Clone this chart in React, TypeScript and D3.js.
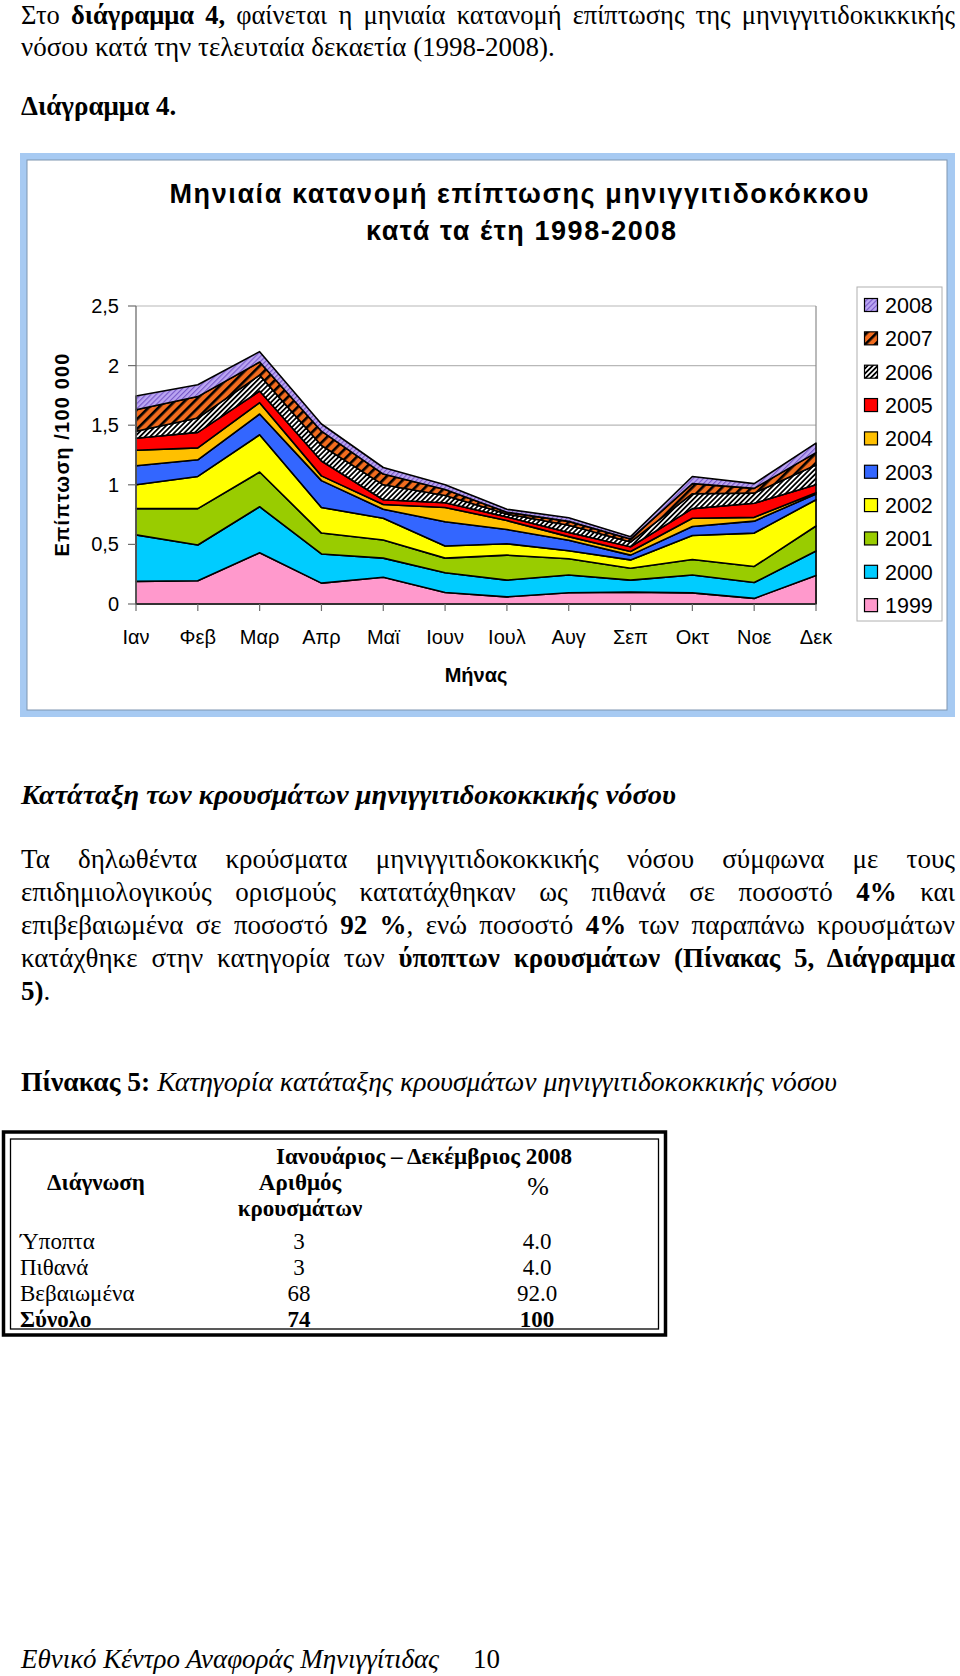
import React, { useRef, useLayoutEffect } from 'react';
import * as d3 from 'd3';

// ---------- DATA ----------
const months = ['Ιαν', 'Φεβ', 'Μαρ', 'Απρ', 'Μαϊ', 'Ιουν', 'Ιουλ', 'Αυγ', 'Σεπ', 'Οκτ', 'Νοε', 'Δεκ'];
const years = ['1999', '2000', '2001', '2002', '2003', '2004', '2005', '2006', '2007', '2008'];

const v1999 = [0.19, 0.195, 0.43, 0.175, 0.224, 0.097, 0.06, 0.095, 0.10, 0.093, 0.047, 0.24];
const v2000 = [0.39, 0.30, 0.386, 0.245, 0.161, 0.165, 0.14, 0.148, 0.10, 0.15, 0.133, 0.205];
const v2001 = [0.22, 0.305, 0.291, 0.175, 0.152, 0.123, 0.21, 0.137, 0.10, 0.13, 0.135, 0.209];
const v2002 = [0.20, 0.27, 0.313, 0.215, 0.183, 0.102, 0.095, 0.067, 0.07, 0.202, 0.28, 0.221];
const v2003 = [0.16, 0.14, 0.174, 0.225, 0.075, 0.203, 0.12, 0.088, 0.04, 0.075, 0.10, 0.048];
const v2004 = [0.13, 0.10, 0.095, 0.04, 0.04, 0.12, 0.075, 0.03, 0.03, 0.07, 0.032, 0.011];
const v2005 = [0.10, 0.13, 0.098, 0.125, 0.04, 0.04, 0.03, 0.035, 0.04, 0.08, 0.118, 0.066];
const v2006 = [0.06, 0.12, 0.133, 0.13, 0.125, 0.06, 0.025, 0.06, 0.04, 0.125, 0.085, 0.166];
const v2007 = [0.18, 0.18, 0.11, 0.12, 0.09, 0.05, 0.015, 0.033, 0.025, 0.085, 0.04, 0.104];
const v2008 = [0.115, 0.10, 0.087, 0.06, 0.055, 0.04, 0.025, 0.03, 0.02, 0.06, 0.04, 0.08];

const seriesValues: Record<string, number[]> = {
  '1999': v1999, '2000': v2000, '2001': v2001, '2002': v2002, '2003': v2003,
  '2004': v2004, '2005': v2005, '2006': v2006, '2007': v2007, '2008': v2008,
};

const yTicks = [0, 0.5, 1, 1.5, 2, 2.5];
const yTickLabels = ['0', '0,5', '1', '1,5', '2', '2,5'];

const tableRows = ['Ύποπτα', 'Πιθανά', 'Βεβαιωμένα', 'Σύνολο'];
const tableCounts = ['3', '3', '68', '74'];
const tablePercents = ['4.0', '4.0', '92.0', '100'];

// ---------- STYLE ----------
const fills: Record<string, string> = {
  '1999': '#ff99cc',
  '2000': '#00ccff',
  '2001': '#99cc00',
  '2002': '#ffff00',
  '2003': '#3366ff',
  '2004': '#ffc000',
  '2005': '#ff0000',
  '2006': 'url(#p2006)',
  '2007': 'url(#p2007)',
  '2008': 'url(#p2008)',
};

const SERIF = '"Liberation Serif", "Times New Roman", serif';
const SANS = '"Liberation Sans", Arial, sans-serif';
const BODY = 27;

// justified line: adjusts word spacing to fill width
function JLine({ x, y, width, size, children, style }: any) {
  const ref = useRef<SVGTextElement>(null);
  useLayoutEffect(() => {
    const el = ref.current;
    if (!el) return;
    el.style.wordSpacing = '0px';
    const len = el.getComputedTextLength();
    const spaces = ((el.textContent || '').match(/ /g) || []).length;
    if (spaces > 0) el.style.wordSpacing = (width - len) / spaces + 'px';
  }, [width]);
  return (
    <text ref={ref} x={x} y={y} fontSize={size} fontFamily={SERIF} style={style}>
      {children}
    </text>
  );
}

function Chart() {
  const x = d3.scalePoint<string>().domain(months).range([136, 816]);
  const y = d3.scaleLinear().domain([0, 2.5]).range([604, 306]);

  const rows = months.map((m, i) => {
    const r: any = { month: m };
    years.forEach((yr) => (r[yr] = seriesValues[yr][i]));
    return r;
  });
  const stacked = d3.stack<any>().keys(years)(rows);
  const area = d3
    .area<any>()
    .x((d) => x(d.data.month) as number)
    .y0((d) => y(d[0]))
    .y1((d) => y(d[1]));

  const legendYears = [...years].reverse();
  const legendTop = 305;
  const legendStep = 33.35;

  return (
    <g>
      <defs>
        <pattern id="p2006" width="3.6" height="3.6" patternUnits="userSpaceOnUse" patternTransform="rotate(45)">
          <rect width="3.6" height="3.6" fill="#ffffff" />
          <rect width="1.8" height="3.6" fill="#000000" />
        </pattern>
        <pattern id="p2007" width="7" height="7" patternUnits="userSpaceOnUse" patternTransform="rotate(45)">
          <rect width="7" height="7" fill="#f26c1e" />
          <rect width="2.6" height="7" fill="#000000" />
        </pattern>
        <pattern id="p2008" width="3.6" height="3.6" patternUnits="userSpaceOnUse" patternTransform="rotate(45)">
          <rect width="3.6" height="3.6" fill="#bba6f2" />
          <rect width="1.1" height="3.6" fill="#7657c8" />
        </pattern>
      </defs>

      {/* chart frame */}
      <rect x={20} y={153} width={935} height={564} fill="#a7caf2" />
      <rect x={27} y={160} width={920} height={550} fill="#ffffff" stroke="#7f95b0" strokeWidth={1} />

      {/* title */}
      <text x={519} y={203} textAnchor="middle" fontFamily={SANS} fontWeight="bold" fontSize={27}
        textLength={699} lengthAdjust="spacing">Μηνιαία κατανομή επίπτωσης μηνιγγιτιδοκόκκου</text>
      <text x={521} y={240} textAnchor="middle" fontFamily={SANS} fontWeight="bold" fontSize={27}
        textLength={310} lengthAdjust="spacing">κατά τα έτη 1998-2008</text>

      {/* gridlines */}
      {yTicks.map((t) => (
        <line key={t} x1={136} x2={816} y1={y(t)} y2={y(t)} stroke="#b8b8b8" strokeWidth={1.2} />
      ))}
      <line x1={816} x2={816} y1={306} y2={604} stroke="#8c8c8c" strokeWidth={1.2} />

      {/* areas */}
      {stacked.map((s) => (
        <path key={s.key} d={area(s) as string} fill={fills[s.key]} stroke="#000" strokeWidth={1.6} strokeLinejoin="round" />
      ))}

      {/* axes */}
      <line x1={136} x2={136} y1={306} y2={604} stroke="#6e6e6e" strokeWidth={1.3} />
      <line x1={136} x2={816} y1={604} y2={604} stroke="#333" strokeWidth={1.5} />
      {yTicks.map((t, i) => (
        <g key={t}>
          <line x1={128} x2={136} y1={y(t)} y2={y(t)} stroke="#6e6e6e" strokeWidth={1.2} />
          <text x={119} y={y(t) + 7} textAnchor="end" fontFamily={SANS} fontSize={20}>{yTickLabels[i]}</text>
        </g>
      ))}
      {months.map((m) => (
        <g key={m}>
          <line x1={x(m)} x2={x(m)} y1={604} y2={611} stroke="#6e6e6e" strokeWidth={1.2} />
          <text x={x(m)} y={644} textAnchor="middle" fontFamily={SANS} fontSize={20}>{m}</text>
        </g>
      ))}
      <text x={476} y={682} textAnchor="middle" fontFamily={SANS} fontWeight="bold" fontSize={20}>Μήνας</text>
      <text transform="translate(69,455) rotate(-90)" textAnchor="middle" fontFamily={SANS} fontWeight="bold" fontSize={20}
        textLength={203} lengthAdjust="spacing">
        Επίπτωση /100 000
      </text>

      {/* legend */}
      <rect x={857} y={287} width={85} height={334} fill="#fff" stroke="#b0b0b0" strokeWidth={1} />
      {legendYears.map((yr, i) => {
        const cy = legendTop + i * legendStep;
        return (
          <g key={yr}>
            <rect x={864.5} y={cy - 6.5} width={13} height={13} fill={fills[yr]} stroke="#000" strokeWidth={1.2} />
            <text x={885} y={cy + 7.8} fontFamily={SANS} fontSize={21.5}>{yr}</text>
          </g>
        );
      })}
    </g>
  );
}

function Table() {
  const rowY = [1249, 1275, 1301, 1327];
  return (
    <g fontFamily={SERIF} fontSize={23}>
      <rect x={3.5} y={1132} width={662} height={203} fill="none" stroke="#000" strokeWidth={3.5} />
      <rect x={10.5} y={1139} width={648} height={190} fill="none" stroke="#000" strokeWidth={1.3} />
      <text x={424} y={1164} textAnchor="middle" fontWeight="bold" textLength={296} lengthAdjust="spacingAndGlyphs">Ιανουάριος – Δεκέμβριος 2008</text>
      <text x={96} y={1190} textAnchor="middle" fontWeight="bold">Διάγνωση</text>
      <text x={300} y={1190} textAnchor="middle" fontWeight="bold">Αριθμός</text>
      <text x={300} y={1216} textAnchor="middle" fontWeight="bold">κρουσμάτων</text>
      <text x={538} y={1195} textAnchor="middle" fontSize={26}>%</text>
      {tableRows.map((r, i) => {
        const bold = i === tableRows.length - 1 ? 'bold' : 'normal';
        return (
          <g key={r} fontWeight={bold}>
            <text x={20} y={rowY[i]}>{r}</text>
            <text x={299} y={rowY[i]} textAnchor="middle">{tableCounts[i]}</text>
            <text x={537} y={rowY[i]} textAnchor="middle">{tablePercents[i]}</text>
          </g>
        );
      })}
    </g>
  );
}

export default function App() {
  const B = { fontWeight: 'bold' as const };
  return (
    <svg width={960} height={1676} viewBox="0 0 960 1676" style={{ position: 'absolute', left: 0, top: 0, background: '#fff' }}>
      <rect width={960} height={1676} fill="#fff" />
      <JLine x={21} y={24} width={934} size={26.5}>
        Στο <tspan style={B}>διάγραμμα 4,</tspan> φαίνεται η μηνιαία κατανομή επίπτωσης της μηνιγγιτιδοκικκικής
      </JLine>
      <text x={21} y={56} fontFamily={SERIF} fontSize={BODY}>νόσου κατά την τελευταία δεκαετία (1998-2008).</text>
      <text x={21} y={115} fontFamily={SERIF} fontSize={BODY} fontWeight="bold">Διάγραμμα 4.</text>

      <Chart />

      <text x={21} y={804} fontFamily={SERIF} fontSize={BODY} fontWeight="bold" fontStyle="italic"
        textLength={655} lengthAdjust="spacingAndGlyphs">
        Κατάταξη των κρουσμάτων μηνιγγιτιδοκοκκικής νόσου
      </text>

      <JLine x={21} y={868} width={934} size={BODY}>
        Τα δηλωθέντα κρούσματα μηνιγγιτιδοκοκκικής νόσου σύμφωνα με τους
      </JLine>
      <JLine x={21} y={901} width={934} size={BODY}>
        επιδημιολογικούς ορισμούς κατατάχθηκαν ως πιθανά σε ποσοστό <tspan style={B}>4%</tspan> και
      </JLine>
      <JLine x={21} y={934} width={934} size={BODY}>
        επιβεβαιωμένα σε ποσοστό <tspan style={B}>92 %</tspan>, ενώ ποσοστό <tspan style={B}>4%</tspan> των παραπάνω κρουσμάτων
      </JLine>
      <JLine x={21} y={967} width={934} size={BODY}>
        κατάχθηκε στην κατηγορία των <tspan style={B}>ύποπτων κρουσμάτων (Πίνακας 5, Διάγραμμα</tspan>
      </JLine>
      <text x={21} y={1000} fontFamily={SERIF} fontSize={BODY}>
        <tspan fontWeight="bold">5)</tspan>.
      </text>

      <text x={21} y={1091} fontFamily={SERIF} fontSize={BODY} textLength={816} lengthAdjust="spacingAndGlyphs">
        <tspan fontWeight="bold">Πίνακας 5:</tspan> <tspan fontStyle="italic">Κατηγορία κατάταξης κρουσμάτων μηνιγγιτιδοκοκκικής νόσου</tspan>
      </text>

      <Table />

      <text x={21} y={1668} fontFamily={SERIF} fontSize={27} fontStyle="italic" textLength={418} lengthAdjust="spacingAndGlyphs">Εθνικό Κέντρο Αναφοράς Μηνιγγίτιδας</text>
      <text x={473} y={1668} fontFamily={SERIF} fontSize={27}>10</text>
    </svg>
  );
}
